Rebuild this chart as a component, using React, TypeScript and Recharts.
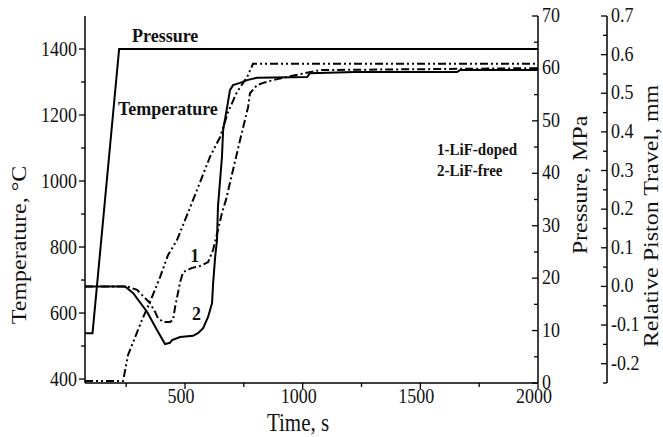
import React from "react";
import { LineChart, Line, XAxis, YAxis, ReferenceDot, Label } from "recharts";

const serif = "'Liberation Serif', 'Times New Roman', serif";

// pressure ramp (time s, MPa)
const pressureTime = [75, 107, 220, 2000];
const pressureMPa = [9.5, 9.5, 63.7, 63.7];

// temperature (time s, deg C)
const tempTime = [75, 236, 240, 258, 288, 317, 351, 394, 428, 466, 534, 606, 649, 683, 721, 764, 789, 2000];
const tempC = [394, 394, 406, 473, 527, 579, 633, 709, 776, 821, 942, 1073, 1133, 1209, 1270, 1315, 1355, 1355];

// 1 - LiF-doped, relative piston travel (mm)
const doped = {
  t: [75, 254, 296, 317, 351, 373, 385, 407, 436, 449, 458, 470, 479, 492, 530, 564, 598, 619, 640, 657, 674, 691, 734, 768, 776, 806, 832, 874, 946, 1074, 2000],
  mm: [0, 0, -0.009, -0.022, -0.043, -0.066, -0.082, -0.092, -0.092, -0.087, -0.053, -0.017, 0.011, 0.037, 0.048, 0.053, 0.063, 0.094, 0.146, 0.19, 0.224, 0.268, 0.379, 0.464, 0.5, 0.521, 0.527, 0.534, 0.544, 0.56, 0.565],
};

// 2 - LiF-free
const free = {
  t: [75, 245, 279, 339, 381, 415, 436, 445, 479, 534, 555, 577, 598, 615, 619, 628, 636, 640, 657, 662, 679, 691, 704, 734, 764, 806, 1019, 1031, 1223, 1656, 1669, 2000],
  mm: [0, 0, -0.017, -0.066, -0.113, -0.149, -0.146, -0.139, -0.131, -0.128, -0.121, -0.108, -0.079, -0.043, 0.004, 0.076, 0.12, 0.206, 0.335, 0.405, 0.464, 0.508, 0.521, 0.527, 0.534, 0.54, 0.542, 0.552, 0.555, 0.555, 0.56, 0.56],
};

const xTicks = [250, 500, 750, 1000, 1250, 1500, 1750, 2000];
const xLabels = [500, 1000, 1500, 2000];
const tTicks = [400, 500, 600, 700, 800, 900, 1000, 1100, 1200, 1300, 1400];
const tLabels = [400, 600, 800, 1000, 1200, 1400];
const pTicks = [0, 5, 10, 15, 20, 25, 30, 35, 40, 45, 50, 55, 60, 65, 70];
const pLabels = [0, 10, 20, 30, 40, 50, 60, 70];
const rTicks = [-0.25, -0.2, -0.15, -0.1, -0.05, 0, 0.05, 0.1, 0.15, 0.2, 0.25, 0.3, 0.35, 0.4, 0.45, 0.5, 0.55, 0.6, 0.65, 0.7];

const zip = (xs: number[], ys: number[]) => xs.map((t, i) => ({ t, v: ys[i] }));

const SY = 1.2; // figure is a bit taller than wide

const BottomTick = ({ x, y, payload }: any) => {
  const major = xLabels.includes(payload.value);
  return (
    <g>
      <line x1={x} y1={y} x2={x} y2={y + (major ? 6 : 4)} stroke="#000" strokeWidth={1.3} />
      {major && (
        <text transform={`translate(${x - 4},${y + 20}) scale(1,${SY})`} textAnchor="middle" fontFamily={serif} fontSize={18} fill="#111">
          {payload.value}
        </text>
      )}
    </g>
  );
};

const LeftTick = ({ x, y, payload }: any) => {
  const major = tLabels.includes(payload.value);
  return (
    <g>
      <line x1={x - (major ? 6 : 4)} y1={y} x2={x} y2={y} stroke="#000" strokeWidth={1.3} />
      {major && (
        <text transform={`translate(${x - 8},${y + 7}) scale(1,${SY})`} textAnchor="end" fontFamily={serif} fontSize={18} fill="#111">
          {payload.value}
        </text>
      )}
    </g>
  );
};

const makeRightTick = (isMajor: (v: number) => string | null) => ({ x, y, payload }: any) => {
  const lab = isMajor(payload.value);
  return (
    <g>
      <line x1={x - (lab !== null ? 6 : 4)} y1={y} x2={x} y2={y} stroke="#000" strokeWidth={1.3} />
      {lab !== null && (
        <text transform={`translate(${x + 4},${y + 6}) scale(1,${SY})`} textAnchor="start" fontFamily={serif} fontSize={18} fill="#111">
          {lab}
        </text>
      )}
    </g>
  );
};

const PTick = makeRightTick((v) => (pLabels.includes(v) ? String(v) : null));
const RTick = makeRightTick((v) => {
  const s = v.toFixed(1);
  return Math.abs(v * 10 - Math.round(v * 10)) < 1e-6 ? (s === "-0.0" ? "0.0" : s) : null;
});

const vTitle = (text: string, cx: number, cy: number) => () => (
  <text
    transform={`translate(${cx},${cy}) rotate(-90) scale(${SY},1)`}
    textAnchor="middle"
    dominantBaseline="central"
    fontFamily={serif}
    fontSize={20}
    fill="#111"
  >
    {text}
  </text>
);

const note = (text: string, size: number, bold: boolean) => ({
  content: ({ viewBox }: any) => (
    <text
      transform={`translate(${viewBox.x},${viewBox.y}) scale(1,1.1)`}
      fontFamily={serif}
      fontSize={size}
      fontWeight={bold ? 700 : 400}
      fill="#111"
    >
      {text}
    </text>
  ),
});

export default function App() {
  const axisLine = { stroke: "#000", strokeWidth: 1.5 };
  return (
    <div style={{ position: "absolute", left: 0, top: 0, background: "#fff" }}>
      <LineChart width={663} height={437} margin={{ top: 16, right: 0, bottom: 0, left: 0 }}>
        <XAxis
          dataKey="t"
          type="number"
          domain={[75, 2000]}
          allowDataOverflow
          ticks={xTicks}
          interval={0}
          tickSize={0}
          tickMargin={0}
          tickLine={false}
          axisLine={axisLine}
          tick={<BottomTick />}
          height={54}
        >
          <Label
            content={() => (
              <text transform={`translate(298,431) scale(1,${SY})`} textAnchor="middle" fontFamily={serif} fontSize={21} fill="#111">
                Time, s
              </text>
            )}
          />
        </XAxis>
        <XAxis xAxisId="top" orientation="top" type="number" domain={[75, 2000]} height={0} tick={false} tickLine={false} axisLine={axisLine} />
        <YAxis
          yAxisId="T"
          type="number"
          domain={[388, 1500]}
          allowDataOverflow
          ticks={tTicks}
          interval={0}
          tickSize={0}
          tickMargin={0}
          tickLine={false}
          axisLine={axisLine}
          tick={<LeftTick />}
          width={85}
        >
          <Label content={vTitle("Temperature, \u00B0C", 19, 245)} />
        </YAxis>
        <YAxis
          yAxisId="P"
          orientation="right"
          type="number"
          domain={[0, 70]}
          allowDataOverflow
          ticks={pTicks}
          interval={0}
          tickSize={0}
          tickMargin={0}
          tickLine={false}
          axisLine={axisLine}
          tick={<PTick />}
          width={69}
        >
          <Label content={vTitle("Pressure, MPa", 580, 185)} />
        </YAxis>
        <YAxis
          yAxisId="R"
          orientation="right"
          type="number"
          domain={[-0.25, 0.7]}
          allowDataOverflow
          ticks={rTicks}
          interval={0}
          tickSize={0}
          tickMargin={0}
          tickLine={false}
          axisLine={axisLine}
          tick={<RTick />}
          width={56}
        >
          <Label content={vTitle("Relative Piston Travel, mm", 651, 216)} />
        </YAxis>

        <Line data={zip(pressureTime, pressureMPa)} dataKey="v" yAxisId="P" type="linear" dot={false} stroke="#000" strokeWidth={2} isAnimationActive={false} />
        <Line data={zip(tempTime, tempC)} dataKey="v" yAxisId="T" type="linear" dot={false} stroke="#000" strokeWidth={2} strokeDasharray="8 3 2 3 2 3" isAnimationActive={false} />
        <Line data={zip(doped.t, doped.mm)} dataKey="v" yAxisId="R" type="linear" dot={false} stroke="#000" strokeWidth={2} strokeDasharray="8 3 2 3" isAnimationActive={false} />
        <Line data={zip(free.t, free.mm)} dataKey="v" yAxisId="R" type="linear" dot={false} stroke="#000" strokeWidth={2} isAnimationActive={false} />

        <ReferenceDot yAxisId="T" x={275} y={1421} r={0} fill="none" stroke="none" label={note("Pressure", 18, true)} />
        <ReferenceDot yAxisId="T" x={215} y={1200} r={0} fill="none" stroke="none" label={note("Temperature", 18, true)} />
        <ReferenceDot yAxisId="T" x={522} y={755} r={0} fill="none" stroke="none" label={note("1", 18, true)} />
        <ReferenceDot yAxisId="T" x={530} y={578} r={0} fill="none" stroke="none" label={note("2", 18, true)} />
        <ReferenceDot yAxisId="T" x={1571} y={1079} r={0} fill="none" stroke="none" label={note("1-LiF-doped", 15, true)} />
        <ReferenceDot yAxisId="T" x={1571} y={1015} r={0} fill="none" stroke="none" label={note("2-LiF-free", 15, true)} />
      </LineChart>
    </div>
  );
}
